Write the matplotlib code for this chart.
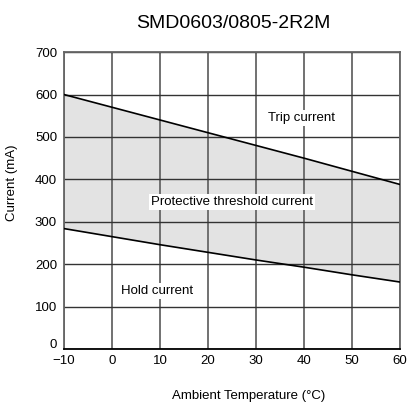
import matplotlib
matplotlib.use("Agg")
import matplotlib.pyplot as plt
from matplotlib.transforms import ScaledTranslation

temps = [-10, 0, 10, 20, 30, 40, 50, 60]
trip_current = [600, 570, 540, 510, 480, 450, 419, 388]
hold_current = [284, 265, 246, 228, 210, 193, 175, 158]
xticks = [-10, 0, 10, 20, 30, 40, 50, 60]
yticks = [0, 100, 200, 300, 400, 500, 600, 700]

plt.rcParams['font.family'] = ['Liberation Sans', 'DejaVu Sans']

fig = plt.figure(figsize=(4.09, 4.04), dpi=100)
ax = fig.add_axes([0.1565, 0.136, 0.8215, 0.735])

ax.fill_between(temps, hold_current, trip_current, color='#e3e3e3', zorder=1, linewidth=0)
for xv in xticks:
    ax.axvline(xv, color='#666666', lw=1.3, zorder=2)
for yv in yticks:
    ax.axhline(yv, color='#333333', lw=1.0, zorder=2)
ax.plot(temps, trip_current, color='black', lw=1.2, zorder=3)
ax.plot(temps, hold_current, color='black', lw=1.2, zorder=3)

ax.set_xlim(-10, 60)
ax.set_ylim(0, 700)
ax.set_xticks(xticks)
ax.set_xticklabels(['\u221210'] + [str(v) for v in xticks[1:]])
ax.set_yticks(yticks)
ax.tick_params(length=0, labelsize=9.5)
ax.tick_params(axis='y', pad=5)
ax.tick_params(axis='x', pad=4)
# lift the "0" y tick label slightly, as in the reference
lbl0 = ax.get_yticklabels()[0]
lbl0.set_transform(lbl0.get_transform() + ScaledTranslation(0, 6 / 100, fig.dpi_scale_trans))
for s in ['top', 'right', 'left']:
    ax.spines[s].set_color('#666666')
    ax.spines[s].set_linewidth(1.3)
ax.spines['bottom'].set_color('black')
ax.spines['bottom'].set_linewidth(1.3)

bbox = dict(facecolor='white', edgecolor='none', pad=1.5)
ax.text(39.5, 545, 'Trip current', fontsize=9.5, ha='center', va='center', bbox=bbox, zorder=4)
ax.text(25, 346, 'Protective threshold current', fontsize=9.5, ha='center', va='center', bbox=bbox, zorder=4)
ax.text(9.4, 137, 'Hold current', fontsize=9.5, ha='center', va='center', bbox=bbox, zorder=4)

fig.text(0.57, 0.943, 'SMD0603/0805-2R2M', fontsize=14, ha='center', va='center')
fig.text(0.609, 0.02, 'Ambient Temperature (\u00b0C)', fontsize=9.5, ha='center', va='center')
fig.text(0.03, 1 - 183 / 404, 'Current (mA)', fontsize=9.5, ha='center', va='center', rotation=90)

fig.savefig('out.png', dpi=100)
